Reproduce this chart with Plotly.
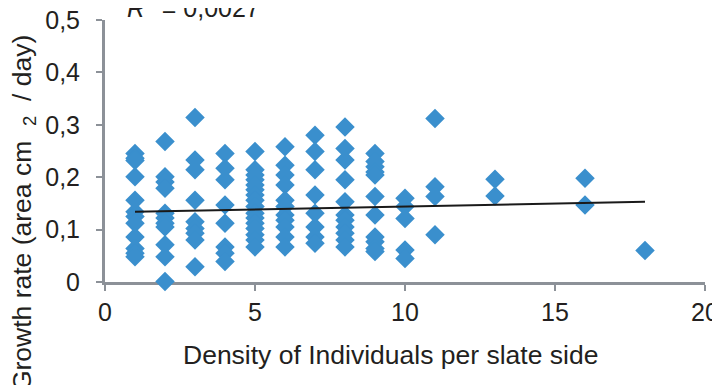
import plotly.graph_objects as go

# Density (x) and growth rate (y) values
density = (
    [1] * 12 + [2] * 11 + [3] * 9 + [4] * 8 + [5] * 16 + [6] * 11 + [7] * 8
    + [8] * 11 + [9] * 11 + [10] * 5 + [11] * 4 + [13] * 2 + [16] * 2 + [18] * 1
)
growth = [
    # x = 1
    0.245, 0.236, 0.232, 0.201, 0.156, 0.134, 0.125, 0.112, 0.086, 0.064, 0.055, 0.048,
    # x = 2
    0.268, 0.201, 0.191, 0.179, 0.131, 0.122, 0.112, 0.105, 0.071, 0.048, 0.001,
    # x = 3
    0.314, 0.233, 0.214, 0.156, 0.115, 0.102, 0.093, 0.080, 0.029,
    # x = 4
    0.245, 0.217, 0.195, 0.147, 0.112, 0.067, 0.055, 0.039,
    # x = 5
    0.249, 0.214, 0.204, 0.195, 0.185, 0.176, 0.166, 0.156, 0.144, 0.131, 0.122,
    0.112, 0.102, 0.090, 0.080, 0.067,
    # x = 6
    0.258, 0.223, 0.204, 0.185, 0.156, 0.144, 0.128, 0.118, 0.105, 0.086, 0.067,
    # x = 7
    0.280, 0.249, 0.214, 0.166, 0.131, 0.105, 0.086, 0.074,
    # x = 8
    0.296, 0.255, 0.233, 0.195, 0.153, 0.128, 0.118, 0.105, 0.093, 0.080, 0.067,
    # x = 9
    0.245, 0.230, 0.220, 0.210, 0.204, 0.163, 0.128, 0.086, 0.077, 0.064, 0.058,
    # x = 10
    0.160, 0.144, 0.121, 0.061, 0.045,
    # x = 11
    0.312, 0.182, 0.163, 0.090,
    # x = 13
    0.196, 0.164,
    # x = 16
    0.198, 0.147,
    # x = 18
    0.060,
]

# Linear trend line endpoints
trend_x = [1, 18]
trend_y = [0.134, 0.153]

r2_label = "<i>R</i><sup>2</sup> = 0,0027"
x_title = "Density of Individuals per slate side"
y_title = "Growth rate (area cm  <sub>2</sub>  / day)"

FONT = "Liberation Sans, Arial, Helvetica, sans-serif"
TXT = "#231f20"
AX = "#8c9198"

fig = go.Figure()
fig.add_trace(go.Scatter(
    x=density, y=growth, mode="markers",
    marker=dict(symbol="diamond", size=15, color="#3a8fcd", line=dict(width=0)),
    cliponaxis=False, showlegend=False,
))
fig.add_trace(go.Scatter(
    x=trend_x, y=trend_y, mode="lines",
    line=dict(color="#1a1a1a", width=2), showlegend=False,
))

fig.update_layout(
    width=720, height=385,
    margin=dict(l=97, r=23, t=12, b=111, autoexpand=False),
    plot_bgcolor="white", paper_bgcolor="white",
    separators=", ",
    font=dict(family=FONT, size=25, color=TXT),
    xaxis=dict(
        range=[0, 20], tickvals=[0, 5, 10, 15, 20], automargin=False,
        showline=True, linecolor=AX, linewidth=3,
        ticks="outside", ticklen=6, tickwidth=1.5, tickcolor=AX,
        showgrid=False, zeroline=False, layer="below traces",
        tickfont=dict(size=25, color=TXT), ticklabeloverflow="allow",
    ),
    yaxis=dict(
        range=[0, 0.5], tickvals=[0, 0.1, 0.2, 0.3, 0.4, 0.5], automargin=False,
        showline=True, linecolor=AX, linewidth=3,
        ticks="outside", ticklen=6, tickwidth=1.5, tickcolor=AX,
        showgrid=False, zeroline=False, layer="below traces",
        tickfont=dict(size=25, color=TXT), ticklabeloverflow="allow",
        ticklabelstandoff=11,
    ),
    annotations=[
        dict(text=r2_label, xref="paper", yref="paper", x=0.033, y=1,
             xanchor="left", yanchor="middle", yshift=14, showarrow=False,
             font=dict(size=25, color=TXT)),
        dict(text=x_title, xref="paper", yref="paper", x=0.475, y=0,
             xanchor="center", yanchor="middle", yshift=-73, showarrow=False,
             font=dict(size=26.5, color=TXT)),
        dict(text=y_title, xref="paper", yref="paper", x=-0.135, y=0.95,
             xanchor="center", yanchor="top", textangle=-90, showarrow=False,
             font=dict(size=26.5, color=TXT)),
    ],
)

fig.write_html("out.html")
